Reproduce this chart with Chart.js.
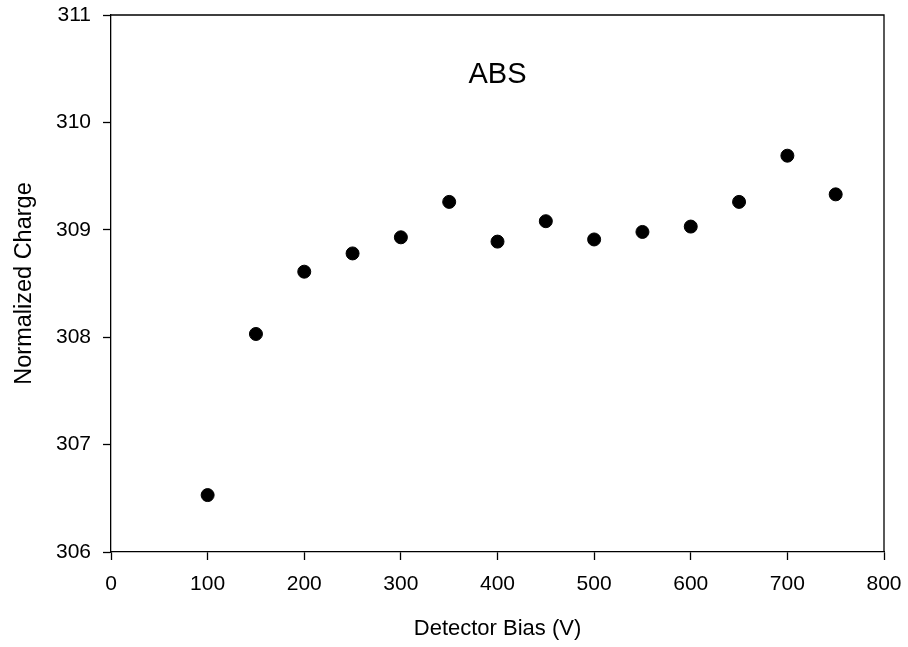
<!DOCTYPE html>
<html>
<head>
<meta charset="utf-8">
<script src="https://cdn.jsdelivr.net/npm/chart.js@4/dist/chart.umd.min.js"></script>
<style>
  html, body { margin: 0; padding: 0; background: #ffffff; }
  #wrap { width: 908px; height: 647px; position: relative; }
</style>
</head>
<body>
<div id="wrap"><canvas id="c" width="908" height="647"></canvas></div>
<script>
const biasVolts = [100, 150, 200, 250, 300, 350, 400, 450, 500, 550, 600, 650, 700, 750];
const normCharge = [306.53, 308.03, 308.61, 308.78, 308.93, 309.26, 308.89, 309.08, 308.91, 308.98, 309.03, 309.26, 309.69, 309.33];
const xTicks = [0, 100, 200, 300, 400, 500, 600, 700, 800];
const yTicks = [306, 307, 308, 309, 310, 311];
const xTitle = 'Detector Bias (V)';
const yTitle = 'Normalized Charge';
const panelLabel = 'ABS';
const panelLabelAt = { x: 400, y: 310.44 };

const FONT = '"Liberation Sans", Arial, sans-serif';

const framePlugin = {
  id: 'frame',
  afterDatasetsDraw(chart) {
    const { ctx, chartArea: a, scales } = chart;
    ctx.save();
    ctx.strokeStyle = '#000';
    ctx.lineWidth = 1.3;
    ctx.beginPath();
    ctx.moveTo(a.left, a.top);
    ctx.lineTo(a.right, a.top);
    ctx.lineTo(a.right, a.bottom);
    ctx.stroke();
    ctx.fillStyle = '#000';
    ctx.font = '29px ' + FONT;
    ctx.textAlign = 'center';
    ctx.textBaseline = 'middle';
    ctx.fillText(panelLabel, scales.x.getPixelForValue(panelLabelAt.x), scales.y.getPixelForValue(panelLabelAt.y));
    ctx.restore();
  }
};

new Chart(document.getElementById('c'), {
  type: 'scatter',
  data: {
    datasets: [{
      data: biasVolts.map((v, i) => ({ x: v, y: normCharge[i] })),
      backgroundColor: '#000',
      borderColor: '#000',
      pointRadius: 6.5,
      pointHoverRadius: 6.5,
      showLine: false
    }]
  },
  options: {
    responsive: false,
    animation: false,
    devicePixelRatio: 1,
    layout: { padding: { left: 0, right: 24, top: 15, bottom: 0 } },
    plugins: { legend: { display: false }, tooltip: { enabled: false }, title: { display: false } },
    scales: {
      x: {
        type: 'linear',
        min: 0, max: 800,
        afterBuildTicks(s) { s.ticks = xTicks.map(v => ({ value: v })); },
        afterFit(s) { s.height = 95; s.paddingLeft = 0; s.paddingRight = 0; },
        grid: { display: true, drawOnChartArea: false, drawTicks: true, tickLength: 8, tickColor: '#000', tickWidth: 1.3 },
        border: { display: true, color: '#000', width: 1.3 },
        ticks: { color: '#000', font: { family: FONT, size: 21 }, padding: 12, maxRotation: 0 },
        title: { display: true, text: xTitle, color: '#000', font: { family: FONT, size: 22 }, padding: { top: 4, bottom: 5 } }
      },
      y: {
        type: 'linear',
        min: 306, max: 311,
        afterBuildTicks(s) { s.ticks = yTicks.map(v => ({ value: v })); },
        afterFit(s) { s.width = 111; s.paddingTop = 0; s.paddingBottom = 0; },
        grid: { display: true, drawOnChartArea: false, drawTicks: true, tickLength: 8, tickColor: '#000', tickWidth: 1.3 },
        border: { display: true, color: '#000', width: 1.3 },
        ticks: { color: '#000', font: { family: FONT, size: 21 }, padding: 12 },
        title: { display: true, text: yTitle, color: '#000', font: { family: FONT, size: 23.5 }, padding: { top: 10, bottom: 0 } }
      }
    }
  },
  plugins: [framePlugin]
});
</script>
</body>
</html>
